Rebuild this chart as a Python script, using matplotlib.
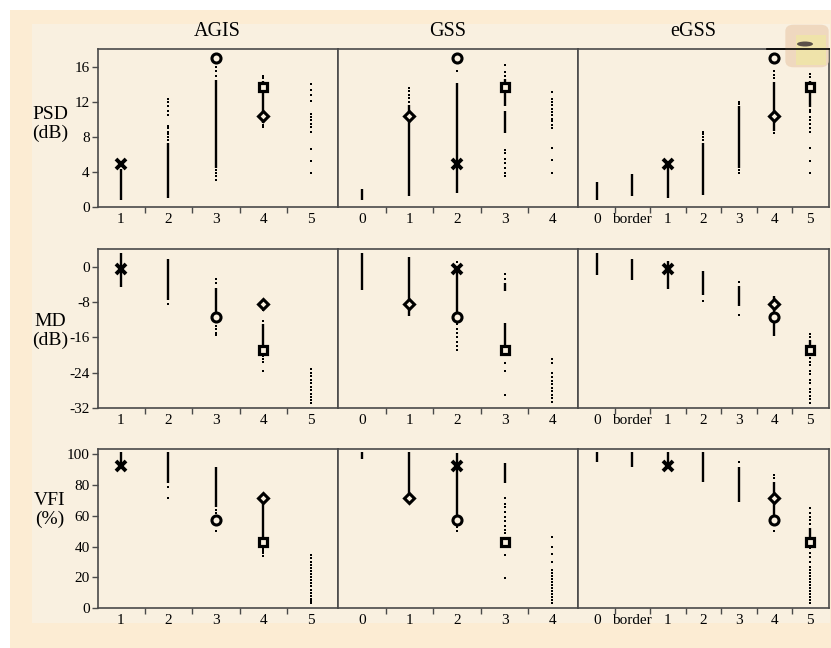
import matplotlib

matplotlib.use("Agg")

import matplotlib.pyplot as plt
from matplotlib.patches import Rectangle, FancyBboxPatch, Ellipse

# categories of the three grading systems
AGIS_CATS = ["1", "2", "3", "4", "5"]
GSS_CATS = ["0", "1", "2", "3", "4"]
EGSS_CATS = ["0", "border", "1", "2", "3", "4", "5"]

# four example cases (x, diamond, circle, square): value per parameter
CASE_PSD = [4.9, 10.4, 17.0, 13.7]
CASE_MD = [-0.5, -8.5, -11.3, -18.8]
CASE_VFI = [92.6, 71.4, 57.5, 43.2]

# stage of each case in each system
AGIS_CASE_CAT = ["1", "4", "3", "4"]
GSS_CASE_CAT = ["2", "1", "2", "3"]
EGSS_CASE_CAT = ["1", "4", "4", "5"]

# dense parts of each strip (lo, hi) and sparse single points
PSD_AGIS_SEG = [[(0.8, 4.3)], [(1.0, 7.3)], [(4.5, 14.5)], [(9.6, 14.4)], []]
PSD_AGIS_DOT = [[], [7.7, 8.0, 8.3, 8.6, 9.0, 9.2, 10.5, 11.0, 11.5, 12.0, 12.3],
                [3.1, 3.5, 3.9, 4.2, 15.0, 15.5, 16.0], [9.1, 9.4, 14.7, 15.0],
                [3.9, 5.3, 6.6, 8.6, 9.1, 9.5, 9.9, 10.3, 10.6, 12.1, 12.8, 13.4, 14.1]]
PSD_GSS_SEG = [[(0.8, 2.0)], [(1.3, 11.6)], [(1.6, 14.2)], [(11.5, 14.6), (8.4, 11.0)], []]
PSD_GSS_DOT = [[], [12.0, 12.4, 12.8, 13.3, 13.6], [15.5],
               [16.2, 15.4, 15.0, 6.5, 6.2, 5.5, 5.0, 4.5, 3.9, 3.5],
               [13.1, 12.3, 12.0, 11.6, 11.2, 10.9, 10.5, 10.1, 9.8, 9.4, 9.0, 6.7, 5.4, 3.9]]
PSD_EGSS_SEG = [[(0.8, 2.8)], [(1.2, 3.8)], [(1.0, 4.6)], [(1.4, 7.3)], [(4.5, 11.5)],
                [(8.7, 14.3)], [(11.4, 14.4)]]
PSD_EGSS_DOT = [[], [], [], [7.7, 8.0, 8.3, 8.6], [3.9, 4.2, 11.8, 12.0],
                [8.4, 14.7, 15.1, 15.5],
                [3.9, 5.3, 6.7, 8.6, 9.0, 9.5, 9.9, 10.3, 10.8, 11.1, 14.8, 15.2]]

MD_AGIS_SEG = [[(-4.7, 3.0)], [(-7.5, 1.7)], [(-12.5, -4.8)], [(-18.0, -13.0)], []]
MD_AGIS_DOT = [[], [-8.5], [-2.8, -3.8, -13.5, -14.2, -15.0, -15.4],
               [-9.8, -12.4, -20.3, -21.0, -21.6, -23.7],
               [-23.2, -24.0, -24.8, -25.6, -26.4, -27.2, -28.0, -28.8, -29.6, -30.2, -30.8]]
MD_GSS_SEG = [[(-5.3, 3.2)], [(-11.1, 2.3)], [(-12.0, -0.4)], [(-5.5, -3.7), (-18.0, -12.8)], []]
MD_GSS_DOT = [[], [], [1.1, -13.0, -14.0, -15.0, -16.0, -17.0, -18.0, -18.8],
              [-1.6, -2.7, -21.8, -23.7, -29.0],
              [-21.0, -21.8, -24.1, -25.0, -25.8, -26.6, -27.4, -28.2, -29.0, -29.8, -30.6]]
MD_EGSS_SEG = [[(-1.9, 3.2)], [(-3.0, 1.7)], [(-5.1, 1.3)], [(-6.4, -0.9)], [(-9.0, -4.4)],
               [(-15.8, -6.6)], [(-18.5, -16.5)]]
MD_EGSS_DOT = [[], [], [], [-7.7], [-3.4, -10.9], [],
               [-15.2, -15.9, -20.7, -21.5, -22.3, -23.6, -24.4, -25.6, -26.4, -27.6,
                -28.4, -29.2, -30.0, -30.8]]

VFI_AGIS_SEG = [[(93.0, 101.3)], [(81.2, 101.3)], [(66.0, 92.0)], [(46.0, 70.0)], []]
VFI_AGIS_DOT = [[], [78.9, 71.4], [64.0, 62.0, 60.0, 56.0, 49.8], [40.0, 38.5, 37.0, 35.5, 34.0],
                [3.2, 4.5, 6.0, 8.0, 10.0, 12.0, 14.0, 16.0, 18.0, 20.0, 22.0, 24.0, 26.0,
                 28.0, 30.0, 32.5, 34.6]]
VFI_GSS_SEG = [[(96.8, 101.3)], [(72.5, 101.3)], [(57.3, 100.6)], [(81.2, 94.2)], []]
VFI_GSS_DOT = [[], [], [53.0, 49.8],
               [71.4, 68.0, 65.5, 62.5, 59.5, 56.5, 53.5, 50.5, 48.7, 34.6, 19.5],
               [3.2, 5.0, 7.0, 9.0, 11.0, 13.0, 15.0, 17.0, 19.0, 21.0, 23.0, 25.0, 30.0,
                35.0, 40.0, 46.1]]
VFI_EGSS_SEG = [[(95.2, 101.7)], [(92.0, 101.7)], [(93.0, 101.7)], [(82.2, 101.3)],
                [(69.2, 92.0)], [(57.5, 82.2)], [(46.0, 52.0)]]
VFI_EGSS_DOT = [[], [], [], [], [95.2], [86.6, 84.5, 49.8],
                [3.2, 5.0, 7.0, 9.0, 11.0, 13.0, 15.0, 17.0, 19.0, 21.0, 23.0, 25.0, 27.0,
                 30.0, 33.0, 36.0, 39.0, 54.5, 57.0, 59.5, 62.0, 65.0]]

W, H = 831, 648
BAND = "#fcecd3"
INNER = "#f9f0e0"
SPINE = "#4a4a4a"
SERIF = ["Liberation Serif", "DejaVu Serif"]

plt.rcParams["font.family"] = SERIF
plt.rcParams["axes.unicode_minus"] = False

fig = plt.figure(figsize=(W / 100, H / 100), dpi=100)
fig.patch.set_facecolor("white")
fig.patches.append(Rectangle((10 / W, 0), 1, 1 - 10 / H, transform=fig.transFigure,
                             facecolor=BAND, edgecolor="none", zorder=-3))
fig.patches.append(Rectangle((32 / W, 1 - 623 / H), (830 - 32) / W, (623 - 24) / H,
                             transform=fig.transFigure, facecolor=INNER,
                             edgecolor="none", zorder=-2))

col_x = [(98, 338), (338, 578), (578, 829)]
row_y = [(49, 207), (249, 408), (449, 608)]
cols = [("AGIS", AGIS_CATS, AGIS_CASE_CAT, (-0.48, 4.57)),
        ("GSS", GSS_CATS, GSS_CASE_CAT, (-0.5, 4.54)),
        ("eGSS", EGSS_CATS, EGSS_CASE_CAT, (-0.53, 6.54))]
rows = [("PSD\n(dB)", CASE_PSD, (0, 18.05), [0, 4, 8, 12, 16],
         [PSD_AGIS_SEG, PSD_GSS_SEG, PSD_EGSS_SEG], [PSD_AGIS_DOT, PSD_GSS_DOT, PSD_EGSS_DOT]),
        ("MD\n(dB)", CASE_MD, (-32, 4.0), [0, -8, -16, -24, -32],
         [MD_AGIS_SEG, MD_GSS_SEG, MD_EGSS_SEG], [MD_AGIS_DOT, MD_GSS_DOT, MD_EGSS_DOT]),
        ("VFI\n(%)", CASE_VFI, (0, 103.5), [0, 20, 40, 60, 80, 100],
         [VFI_AGIS_SEG, VFI_GSS_SEG, VFI_EGSS_SEG], [VFI_AGIS_DOT, VFI_GSS_DOT, VFI_EGSS_DOT])]

# marker styles for the four cases
case_styles = [
    dict(marker="x", markersize=6.5, mew=2.8, color="black"),
    dict(marker="D", markersize=5.5, mew=2.2, mec="black", mfc=INNER),
    dict(marker="o", markersize=6.5, mew=2.2, mec="black", mfc=INNER),
    dict(marker="s", markersize=6, mew=2.3, mec="black", mfc=INNER),
]

row_label_y = [124, 331, 510]

for r, (rlabel, case_vals, ylim, yticks, segs_by_col, dots_by_col) in enumerate(rows):
    yt, yb = row_y[r]
    for c, (title, cats, case_cat, xlim) in enumerate(cols):
        xl, xr = col_x[c]
        ax = fig.add_axes([xl / W, 1 - yb / H, (xr - xl) / W, (yb - yt) / H])
        ax.set_facecolor(INNER)
        pos = list(range(len(cats)))

        for i, seglist in enumerate(segs_by_col[c]):
            for lo, hi in seglist:
                ax.vlines(pos[i], lo, hi, color="black", linewidth=1.7, zorder=2)
        for i, dots in enumerate(dots_by_col[c]):
            if dots:
                ax.scatter([pos[i]] * len(dots), dots, marker="s", s=4.5,
                           color="black", linewidths=0, zorder=2)

        for k, cat in enumerate(case_cat):
            ax.plot(cats.index(cat), case_vals[k], linestyle="none", zorder=4,
                    **case_styles[k])

        ax.set_xlim(*xlim)
        ax.set_ylim(*ylim)
        ax.set_xticks(pos)
        ax.set_xticklabels(cats, fontsize=11)
        ax.set_xticks([p + 0.5 for p in pos[:-1]], minor=True)
        ax.tick_params(axis="x", which="major", length=0, pad=4)
        ax.tick_params(axis="x", which="minor", length=4, width=1.0, color=SPINE,
                       direction="out")
        if c == 0:
            ax.set_yticks(yticks)
            ax.tick_params(axis="y", length=4, width=1.0, color=SPINE, labelsize=11,
                           pad=2)
        else:
            ax.set_yticks([])
        for sp in ax.spines.values():
            sp.set_color(SPINE)
            sp.set_linewidth(1.2)

        if r == 0:
            tx = [217, 448, 693][c]
            fig.text(tx / W, 1 - 31 / H, title, ha="center", va="center", fontsize=14.5)

    fig.text(50 / W, 1 - row_label_y[r] / H, rlabel, ha="center", va="center",
             fontsize=14, linespacing=1.2)

# small pasted thumbnail at the top right of the scan
fig.patches.append(FancyBboxPatch((787 / W, 1 - 66 / H), 40 / W, 40 / H,
                                  boxstyle="round,pad=0.002,rounding_size=0.01",
                                  transform=fig.transFigure, facecolor="#efd8bf",
                                  edgecolor="none", zorder=5))
fig.patches.append(Rectangle((796 / W, 1 - 65 / H), 30 / W, 30 / H,
                             transform=fig.transFigure, facecolor="#efe3aa",
                             edgecolor="none", zorder=6))
fig.patches.append(Ellipse((805 / W, 1 - 44 / H), 16 / W, 5 / H,
                           transform=fig.transFigure, facecolor="#5a5048",
                           edgecolor="none", zorder=7))
fig.lines.append(plt.Line2D([767 / W, 829 / W], [1 - 49 / H, 1 - 49 / H],
                            transform=fig.transFigure, color="black", linewidth=1.2,
                            zorder=8))

fig.savefig("out.png", dpi=100, facecolor=fig.get_facecolor())
